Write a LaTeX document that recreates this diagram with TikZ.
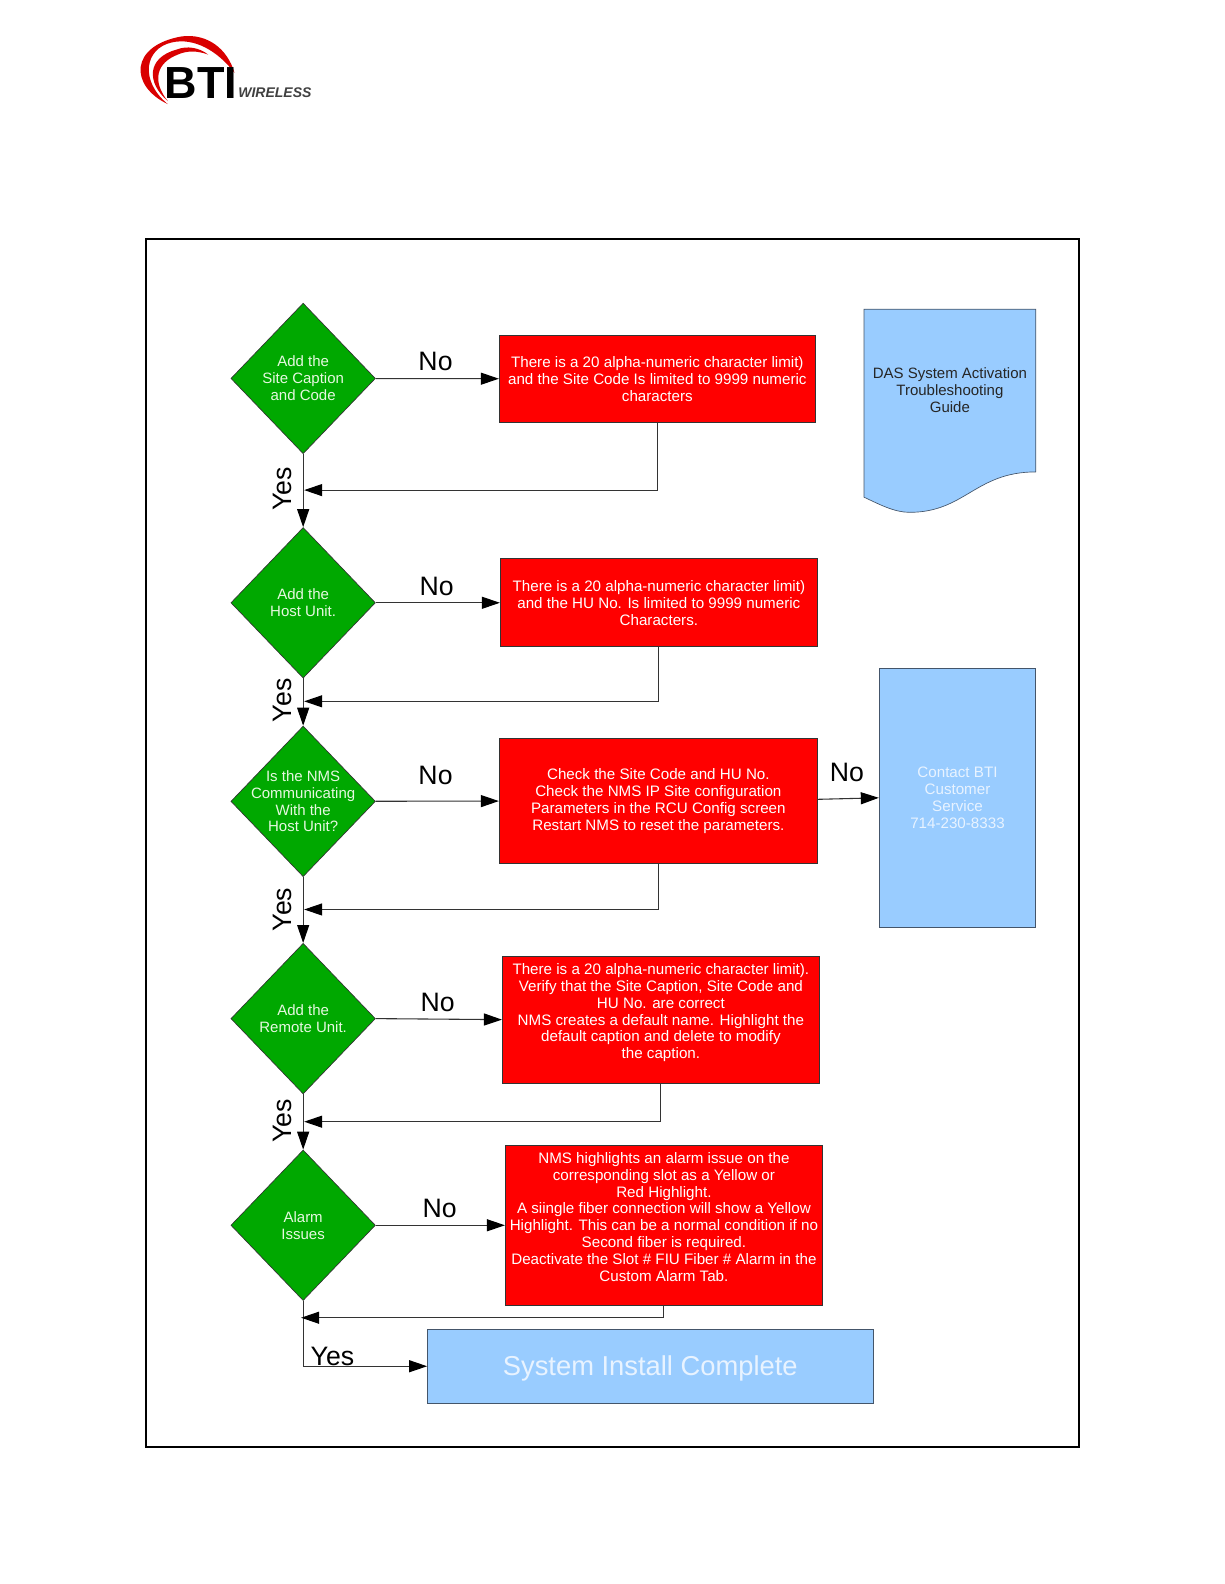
\documentclass[tikz,border=0pt]{standalone}
\usepackage{fontspec}
\setmainfont{Liberation Sans}
\usetikzlibrary{arrows.meta, shapes.geometric, positioning}
\definecolor{dgreen}{HTML}{00A800}
\definecolor{lblue}{HTML}{99CCFF}
\definecolor{edge}{HTML}{333333}
\definecolor{bedge}{HTML}{44556A}
\definecolor{palegreen}{HTML}{E6F8E0}
\definecolor{palebl}{HTML}{E8F3FF}
\def\un{0.6063pt}

\begin{document}
\begin{tikzpicture}[x=0.6063pt, y=-0.6063pt]
   \tikzstyle{dnode}=[diamond, draw=edge, fill=dgreen, text=palegreen, inner sep=-22pt, minimum width=143*\un, minimum height=149*\un, align=center, font=\fontsize{9}{10.1}\selectfont]
   \tikzstyle{rnode}=[rectangle, draw=edge, fill=red, text=white, inner sep=0pt, align=center, font=\fontsize{9.1}{10.1}\selectfont]
   \tikzstyle{bnode}=[rectangle, draw=bedge, fill=lblue, text=palebl, inner sep=0pt, align=center, font=\fontsize{9.1}{10.1}\selectfont]
   \tikzstyle{lab}=[font=\fontsize{16}{18}\selectfont, inner sep=0pt]
   \tikzstyle{arr}=[draw=edge, -{Triangle[length=10.8pt, width=7.2pt, color=black]}, line width=0.65pt]

   \useasboundingbox (0,0) rectangle (1211.3,1567.5);
   % Outer frame
   \draw[black, line width=1.2pt] (144,237) rectangle (1068,1432);

   % Logo
   \fill[red!85!black] (166,103) .. controls (128,85) and (128,45) .. (180,36) .. controls (205,33) and (225,48) .. (232,72) .. controls (215,50) and (192,37) .. (170,42) .. controls (143,48) and (138,80) .. (166,103);
   \fill[red!85!black] (166,100) .. controls (145,82) and (145,57) .. (175,49) .. controls (185,45) and (197,47) .. (206,54) .. controls (195,50) and (185,50) .. (176,54) .. controls (155,62) and (150,80) .. (166,100);
   \draw (199,82) node[font=\fontsize{27}{27}\bfseries\selectfont, inner sep=0pt] (logobti) {BTI};
   \draw (272,92) node[font=\fontsize{8.4}{9}\bfseries\itshape\selectfont, text=black!75, inner sep=0pt] (logowl) {WIRELESS};

   % Decision nodes
   \draw (300,374.5) node[dnode] (d1) {Add the\\Site Caption\\and Code};
   \draw (300,596.5) node[dnode] (d2) {Add the\\Host Unit.};
   \draw (300,793) node[dnode] (d3) {Is the NMS\\Communicating\\With the\\Host Unit?};
   \draw (300,1008) node[dnode] (d4) {Add the\\Remote Unit.};
   \draw (300,1212.5) node[dnode] (d5) {Alarm\\Issues};

   % Red note nodes
   \draw (650.5,375) node[rnode, minimum width=313*\un, minimum height=86*\un] (r1) {There is a 20 alpha-numeric character limit)\\and the Site Code Is limited to 9999 numeric\\characters};
   \draw (652,596.5) node[rnode, minimum width=314*\un, minimum height=87*\un] (r2) {There is a 20 alpha-numeric character limit)\\and the HU No. Is limited to 9999 numeric\\Characters.};
   \draw (651.5,792.5) node[rnode, minimum width=315*\un, minimum height=123*\un] (r3) {Check the Site Code and HU No.\\Check the NMS IP Site configuration\\Parameters in the RCU Config screen\\Restart NMS to reset the parameters.};
   \draw (654,1009) node[rnode, minimum width=314*\un, minimum height=126*\un] (r4) {There is a 20 alpha-numeric character limit).\\Verify  that the Site Caption, Site Code and\\HU No. are correct\\NMS creates a default name. Highlight the\\default caption and delete to modify\\the caption.\\~};
   \draw (657,1212.5) node[rnode, minimum width=314*\un, minimum height=159*\un] (r5) {NMS highlights an alarm issue on the\\corresponding slot as a Yellow or\\Red Highlight.\\A siingle fiber connection will show a  Yellow\\Highlight. This can be a normal condition if no\\Second fiber is required.\\Deactivate the Slot \# FIU Fiber \# Alarm in the\\Custom Alarm Tab.\\~};

   % Blue nodes
   \draw (947.5,789.5) node[bnode, minimum width=155*\un, minimum height=257*\un] (contact) {Contact BTI\\Customer\\Service\\714-230-8333};
   \draw (643.5,1352) node[bnode, font=\fontsize{16.4}{18}\selectfont, text height=14.2pt, text depth=3.4pt, minimum width=441*\un, minimum height=74*\un] (done) {System Install Complete};
   \draw[bedge, fill=lblue] (855,306) -- (1025,306) -- (1025,467) .. controls (965,467) and (955,507) .. (900,507) .. controls (885,507) and (870,499) .. (855,492) -- cycle;
   \draw (940,386) node[align=center, inner sep=0pt, text=black!85, font=\fontsize{9}{10.1}\selectfont] (guide) {DAS System Activation\\Troubleshooting\\Guide};

   % Return points
   \coordinate (j1) at (301,485);
   \coordinate (j2) at (301,694);
   \coordinate (j3) at (301,900);
   \coordinate (j4) at (301,1110);
   \coordinate (j5) at (298,1304);
   \coordinate (r3out) at (809,791);

   % No paths
   \draw[arr] (d1) -- (r1);
   \draw[arr] (d2) -- (r2);
   \draw[arr] (d3) -- (r3);
   \draw[arr] (d4.east) -- (r4.west);
   \draw[arr] (d5) -- (r5);
   \draw[arr] (r3out) -- (contact.west);
   % Yes paths
   \draw[arr] (d1) -- (d2);
   \draw[arr] (d2) -- (d3);
   \draw[arr] (d3) -- (d4);
   \draw[arr] (d4) -- (d5);
   \draw[arr] (d5.south) |- (done.west);
   % Return paths
   \draw[arr] (r1) |- (j1);
   \draw[arr] (r2) |- (j2);
   \draw[arr] (r3) |- (j3);
   \draw[arr] (r4) |- (j4);
   \draw[arr] (r5) |- (j5);

   % Writing labels
   \draw (431,358) node[lab] (no1) {No};
   \draw (432,580) node[lab] (no2) {No};
   \draw (431,767) node[lab] (no3) {No};
   \draw (838,764) node[lab] (no4) {No};
   \draw (433,992) node[lab] (no5) {No};
   \draw (435,1196) node[lab] (no6) {No};
   \draw (280,484) node[lab, rotate=90] (yes1) {Yes};
   \draw (280,693) node[lab, rotate=90] (yes2) {Yes};
   \draw (280,900) node[lab, rotate=90] (yes3) {Yes};
   \draw (280,1109) node[lab, rotate=90] (yes4) {Yes};
   \draw (329,1342) node[lab] (yes5) {Yes};
\end{tikzpicture}
\end{document}
